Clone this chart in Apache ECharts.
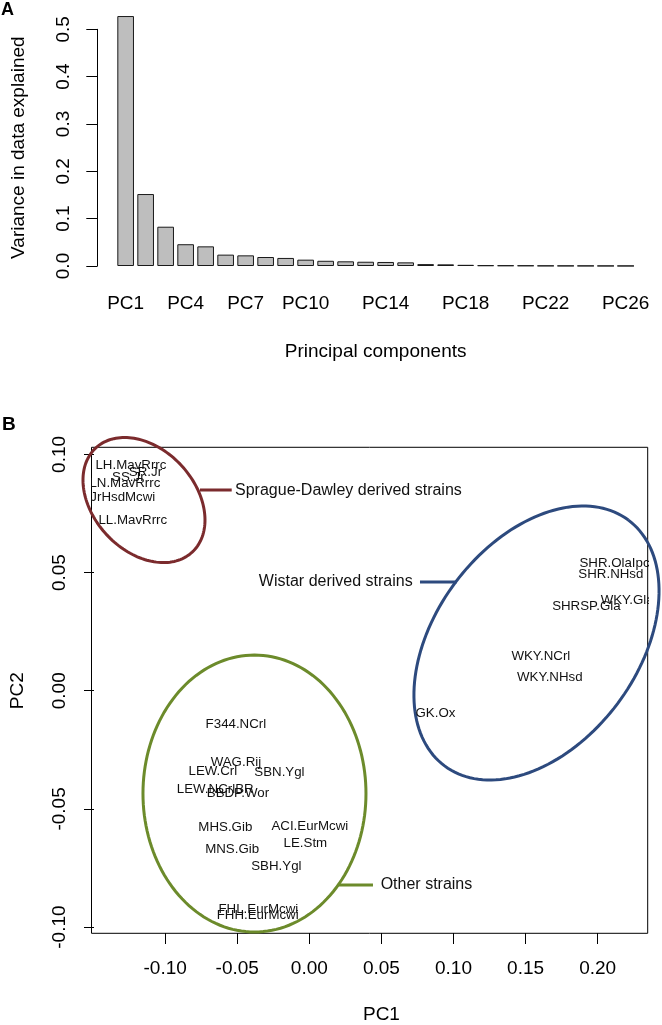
<!DOCTYPE html>
<html>
<head>
<meta charset="utf-8">
<script src="https://cdn.jsdelivr.net/npm/echarts@6/dist/echarts.min.js"></script>
<style>html,body{margin:0;padding:0;background:#fff}#c{width:662px;height:1025px}</style>
</head>
<body>
<div id="c"></div>
<script>
// ---------- Panel A data ----------
const pcCategories = ['PC1','PC2','PC3','PC4','PC5','PC6','PC7','PC8','PC9','PC10','PC11','PC12','PC13',
  'PC14','PC15','PC16','PC17','PC18','PC19','PC20','PC21','PC22','PC23','PC24','PC25','PC26'];
const shownPcLabels = ['PC1','PC4','PC7','PC10','PC14','PC18','PC22','PC26'];
const varianceExplained = [0.528, 0.152, 0.083, 0.046, 0.0415, 0.024, 0.0225, 0.019, 0.017, 0.0134, 0.011,
  0.0099, 0.009, 0.0085, 0.0077, 0.004, 0.0035, 0.0025, 0.0015, 0.0012, 0.001, 0.0006, 0.0005, 0.0004, 0.0003, 0.0002];
const varianceTicks = [0, 0.1, 0.2, 0.3, 0.4, 0.5];

// ---------- Panel B data ----------
const strainNames = ['SS.JrHsdMcwi','LH.MavRrrc','SR.Jr','SS.Jr','LN.MavRrrc','LL.MavRrrc',
  'SHR.OlaIpcv','SHR.NHsd','WKY.Gla','SHRSP.Gla','WKY.NCrl','WKY.NHsd','GK.Ox',
  'F344.NCrl','WAG.Rij','LEW.Crl','SBN.Ygl','LEW.NCrlBR','BBDP.Wor','MHS.Gib','ACI.EurMcwi',
  'LE.Stm','MNS.Gib','SBH.Ygl','FHL.EurMcwi','FHH.EurMcwi'];
const strainPC1 = [-0.1349, -0.1219, -0.1119, -0.1237, -0.1261, -0.1206,
  0.2139, 0.2091, 0.2203, 0.1922, 0.1608, 0.1670, 0.0881,
  -0.0495, -0.0495, -0.0654, -0.0195, -0.0638, -0.0481, -0.0568, 0.0015,
  -0.0016, -0.0521, -0.0216, -0.0340, -0.0345];
const strainPC2 = [0.0819, 0.0954, 0.0925, 0.0901, 0.0878, 0.0722,
  0.0540, 0.0494, 0.0384, 0.0359, 0.0145, 0.0059, -0.0095,
  -0.0141, -0.0300, -0.0340, -0.0346, -0.0418, -0.0435, -0.0578, -0.0572,
  -0.0646, -0.0671, -0.0741, -0.0924, -0.0949];
const pc1Ticks = [-0.10, -0.05, 0.00, 0.05, 0.10, 0.15, 0.20];
const pc2Ticks = [-0.10, -0.05, 0.00, 0.05, 0.10];

// group ellipses in data units: centre, and two conjugate semi-axis vectors
const groupNames = ['Sprague-Dawley derived strains', 'Wistar derived strains', 'Other strains'];
const ellipseCenters = [[-0.1129, 0.0807], [0.1578, 0.02025], [-0.0367, -0.0434]];
const ellipseAxisU = [[0.03324, -0.02203], [0.06338, 0.05197], [0.0769, 0]];
const ellipseAxisV = [[0.02579, 0.01463], [0.05593, -0.02562], [0, 0.05856]];
// connector lines (data units): [x start, x end, y] and label anchor x
const connectorLines = [[-0.0743, -0.0524, 0.0849], [0.07745, 0.10276, 0.04605], [0.0209, 0.04503, -0.08207]];
const groupLabelX = [-0.0501, 0.07241, 0.05034];
const groupLabelSide = ['left', 'right', 'left'];

// ---------- styling / layout ----------
const FONT = "'Liberation Sans', Arial, Helvetica, sans-serif";
const groupColors = ['#7B2B2D', '#2D4A7E', '#6C8B2B'];
const B = {left: 91.5, top: 447.3, right: 647.7, bottom: 933.3, xMin: -0.1491, xMax: 0.2345, yMin: -0.1025, yMax: 0.1030};
const bx = v => B.left + (v - B.xMin) / (B.xMax - B.xMin) * (B.right - B.left);
const by = v => B.bottom - (v - B.yMin) / (B.yMax - B.yMin) * (B.bottom - B.top);
const tLeft = bx(pc1Ticks[0]), tRight = bx(pc1Ticks[pc1Ticks.length - 1]);
const tTop = by(pc2Ticks[pc2Ticks.length - 1]), tBottom = by(pc2Ticks[0]);

const A = {axisX: 97.3, zeroY: 266, topY: 29.3, barLeft: 115.65, pitch: 20};
const pxPerUnitA = (A.zeroY - A.topY) / 0.5;
const barMaxVal = 0.55;

const axisText = {fontSize: 19, color: '#000', fontFamily: FONT};

const chart = echarts.init(document.getElementById('c'), null, {renderer: 'canvas'});
chart.setOption({
  animation: false,
  backgroundColor: '#fff',
  textStyle: {fontFamily: FONT},
  grid: [
    {left: A.barLeft, width: A.pitch * pcCategories.length, top: A.zeroY - barMaxVal * pxPerUnitA, height: barMaxVal * pxPerUnitA},
    {left: A.axisX, width: 10, top: A.topY, height: A.zeroY - A.topY},
    {left: B.left, top: B.top, width: B.right - B.left, height: B.bottom - B.top, show: true, borderColor: '#000', borderWidth: 1},
    {left: tLeft, width: tRight - tLeft, top: tTop, height: tBottom - tTop}
  ],
  xAxis: [
    {gridIndex: 0, type: 'category', data: pcCategories,
     axisLine: {show: false, onZero: false}, axisTick: {show: false},
     axisLabel: Object.assign({interval: (i, v) => shownPcLabels.includes(v), margin: 28}, axisText),
     name: 'Principal components', nameLocation: 'middle', nameGap: 76, nameTextStyle: axisText},
    {gridIndex: 1, type: 'value', show: false},
    {gridIndex: 2, type: 'value', min: B.xMin, max: B.xMax, show: false},
    {gridIndex: 3, type: 'value', min: pc1Ticks[0], max: pc1Ticks[pc1Ticks.length - 1], interval: 0.05,
     position: 'bottom', offset: B.bottom - tBottom,
     axisLine: {show: false, onZero: false}, axisTick: {show: true, length: 11, lineStyle: {color: '#000'}},
     splitLine: {show: false},
     axisLabel: Object.assign({formatter: v => v.toFixed(2), margin: 26}, axisText),
     name: 'PC1', nameLocation: 'middle', nameGap: 72, nameTextStyle: axisText}
  ],
  yAxis: [
    {gridIndex: 0, type: 'value', min: 0, max: barMaxVal, show: false},
    {gridIndex: 1, type: 'value', min: varianceTicks[0], max: varianceTicks[varianceTicks.length - 1], interval: 0.1,
     position: 'left',
     axisLine: {show: true, onZero: false, lineStyle: {color: '#000', width: 1}},
     axisTick: {show: true, length: 11, lineStyle: {color: '#000'}},
     splitLine: {show: false},
     axisLabel: Object.assign({rotate: 90, formatter: v => v.toFixed(1), margin: 24}, axisText),
     name: 'Variance in data explained', nameLocation: 'middle', nameRotate: 90, nameGap: 69, nameTextStyle: axisText},
    {gridIndex: 2, type: 'value', min: B.yMin, max: B.yMax, show: false},
    {gridIndex: 3, type: 'value', min: pc2Ticks[0], max: pc2Ticks[pc2Ticks.length - 1], interval: 0.05,
     position: 'left', offset: tLeft - B.left,
     axisLine: {show: false, onZero: false}, axisTick: {show: true, length: 10, lineStyle: {color: '#000'}},
     splitLine: {show: false},
     axisLabel: Object.assign({rotate: 90, formatter: v => v.toFixed(2), margin: 25}, axisText),
     name: 'PC2', nameLocation: 'middle', nameRotate: 90, nameGap: 67, nameTextStyle: axisText}
  ],
  series: [
    {type: 'bar', xAxisIndex: 0, yAxisIndex: 0, data: varianceExplained, barWidth: A.pitch / 1.2,
     itemStyle: {color: '#BEBEBE', borderColor: '#1a1a1a', borderWidth: 1}, silent: true},
    {type: 'custom', xAxisIndex: 2, yAxisIndex: 2, clip: false, silent: true,
     data: ellipseCenters.map((c, i) => [c[0], c[1], ellipseAxisU[i][0], ellipseAxisU[i][1], ellipseAxisV[i][0], ellipseAxisV[i][1]]),
     encode: {x: 0, y: 1},
     renderItem: (params, api) => {
       const cx = api.value(0), cy = api.value(1), ux = api.value(2), uy = api.value(3), vx = api.value(4), vy = api.value(5);
       const pts = [];
       for (let k = 0; k <= 160; k++) {
         const t = k / 160 * Math.PI * 2;
         pts.push(api.coord([cx + ux * Math.cos(t) + vx * Math.sin(t), cy + uy * Math.cos(t) + vy * Math.sin(t)]));
       }
       return {type: 'polyline', shape: {points: pts}, style: {stroke: groupColors[params.dataIndex], lineWidth: 3, fill: null}};
     }},
    {type: 'custom', xAxisIndex: 2, yAxisIndex: 2, clip: false, silent: true,
     data: connectorLines.map((l, i) => [l[0], l[2], l[1], groupLabelX[i]]),
     encode: {x: 0, y: 1},
     renderItem: (params, api) => {
       const i = params.dataIndex;
       const p1 = api.coord([api.value(0), api.value(1)]);
       const p2 = api.coord([api.value(2), api.value(1)]);
       const pt = api.coord([api.value(3), api.value(1)]);
       return {type: 'group', children: [
         {type: 'line', shape: {x1: p1[0], y1: p1[1], x2: p2[0], y2: p2[1]}, style: {stroke: groupColors[i], lineWidth: 3}},
         {type: 'text', x: pt[0], y: pt[1], style: {text: groupNames[i], fontSize: 16, fontFamily: FONT, fill: '#111', align: groupLabelSide[i], verticalAlign: 'middle'}}
       ]};
     }},
    {type: 'custom', xAxisIndex: 2, yAxisIndex: 2, clip: true, silent: true,
     data: strainPC1.map((x, i) => [x, strainPC2[i]]),
     encode: {x: 0, y: 1},
     renderItem: (params, api) => {
       const p = api.coord([api.value(0), api.value(1)]);
       return {type: 'text', x: p[0], y: p[1], style: {text: strainNames[params.dataIndex], fontSize: 13.3, fontFamily: FONT, fill: '#111', align: 'center', verticalAlign: 'middle'}};
     }}
  ],
  graphic: [
    {type: 'text', left: 1, top: 1, style: {text: 'A', fontSize: 18, fontWeight: 'bold', fontFamily: FONT, fill: '#000'}},
    {type: 'text', left: 2, top: 415, style: {text: 'B', fontSize: 19, fontWeight: 'bold', fontFamily: FONT, fill: '#000'}}
  ]
});
</script>
</body>
</html>
